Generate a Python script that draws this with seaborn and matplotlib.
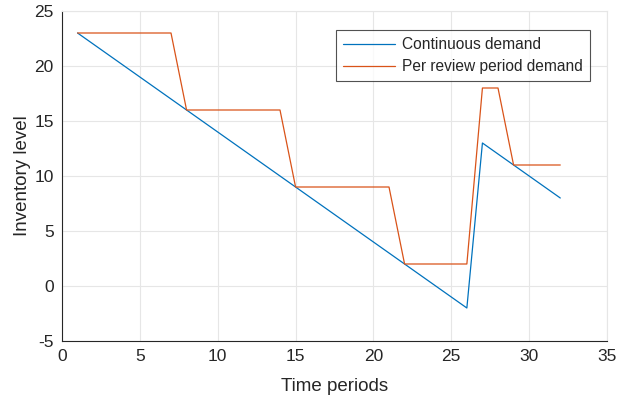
import matplotlib
matplotlib.use("Agg")
import matplotlib.pyplot as plt
import seaborn as sns
import pandas as pd

t = list(range(1, 33))
continuous = [23, 22, 21, 20, 19, 18, 17, 16, 15, 14, 13, 12, 11, 10, 9, 8, 7, 6, 5, 4,
              3, 2, 1, 0, -1, -2, 13, 12, 11, 10, 9, 8]
per_review = [23, 23, 23, 23, 23, 23, 23, 16, 16, 16, 16, 16, 16, 16, 9, 9, 9, 9, 9, 9,
              9, 2, 2, 2, 2, 2, 18, 18, 11, 11, 11, 11]
series_names = ["Continuous demand", "Per review period demand"]
colors = ["#0072BD", "#D95319"]
xticks = [0, 5, 10, 15, 20, 25, 30, 35]
yticks = [-5, 0, 5, 10, 15, 20, 25]

df = pd.DataFrame({
    "t": t + t,
    "v": continuous + per_review,
    "s": [series_names[0]] * len(t) + [series_names[1]] * len(t),
})

sns.set_style("white")
plt.rcParams["font.family"] = ["Liberation Sans", "DejaVu Sans"]
plt.rcParams["axes.unicode_minus"] = False

fig = plt.figure(figsize=(6.18, 3.99), dpi=100)
ax = fig.add_axes([62 / 618, 1 - 341 / 399, (607 - 62) / 618, (341 - 11) / 399])
sns.lineplot(data=df, x="t", y="v", hue="s", palette=colors, linewidth=0.9, ax=ax,
             legend=True)

ax.set_xlim(0, 35)
ax.set_ylim(-5, 25)
ax.set_xticks(xticks)
ax.set_yticks(yticks)
ax.grid(True, color="#e6e6e6", linewidth=0.8)
ax.set_axisbelow(True)
for side in ["top", "right"]:
    ax.spines[side].set_color("#e6e6e6")
    ax.spines[side].set_linewidth(0.8)
for side in ["left", "bottom"]:
    ax.spines[side].set_color("#262626")
    ax.spines[side].set_linewidth(0.8)
ax.tick_params(direction="in", length=4, width=0.8, colors="#262626", labelsize=12.5,
               pad=6, top=False, right=False)
ax.set_xlabel("Time periods", fontsize=13.5, color="#262626", labelpad=10)
ax.set_ylabel("Inventory level", fontsize=13.5, color="#262626", labelpad=2)

leg = ax.legend(loc="upper right", bbox_to_anchor=(0.969, 0.942), fontsize=11.2,
                frameon=True, fancybox=False, edgecolor="#262626", borderaxespad=0,
                handlelength=3.3, borderpad=0.45, labelspacing=0.45, handletextpad=0.5)
leg.get_frame().set_linewidth(0.8)
leg.set_title(None)

fig.savefig("out.png", dpi=100)
